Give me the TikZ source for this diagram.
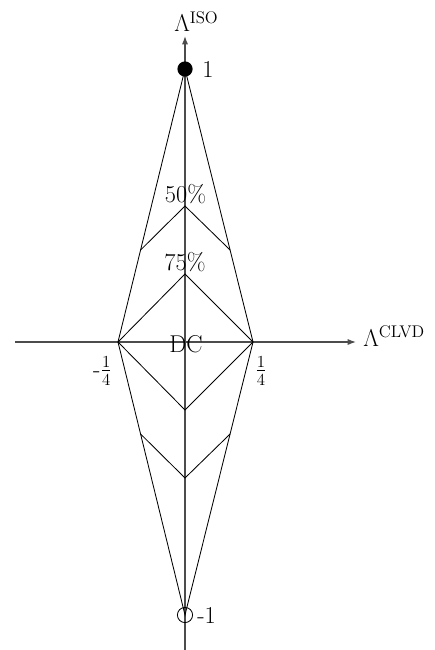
\documentclass[tikz,border=0pt]{standalone}
\usepackage{amsmath, amssymb}
\usepackage{tikz}
\usetikzlibrary{arrows.meta, positioning, calc}

\begin{document}
\begin{tikzpicture}[
    x=0.025cm, y=-0.025cm,
    >={Latex[length=6pt, width=4.4pt]},
    axis/.style={->, line width=0.8pt, black!70},
    edge/.style={line width=0.6pt, black},
    lbl/.style={font=\LARGE, inner sep=0pt},
]
    \useasboundingbox (0,0) rectangle (434,650);

    % axes
    \coordinate (xstart) at (15,342);
    \coordinate (xend) at (356,342);
    \coordinate (ystart) at (185,650);
    \coordinate (yend) at (185,36);
    \draw[axis] (xstart) -- (xend);
    \draw[axis] (ystart) -- (yend);

    % corners of the lune
    \coordinate (iso) at (185,69);
    \coordinate (niso) at (185,615);
    \coordinate (lclvd) at (118,342);
    \coordinate (rclvd) at (253,342);
    \coordinate (top50) at (185,206);
    \coordinate (top75) at (185,274);
    \coordinate (bot75) at (185,410);
    \coordinate (bot50) at (185,478);
    \coordinate (ul50) at ($(iso)!0.663!(lclvd)$);
    \coordinate (ur50) at ($(iso)!0.663!(rclvd)$);
    \coordinate (ll50) at ($(lclvd)!0.337!(niso)$);
    \coordinate (lr50) at ($(rclvd)!0.337!(niso)$);

    \draw[edge] (iso) -- (lclvd) -- (niso) -- (rclvd) -- cycle;
    \draw[edge] (ul50) -- (top50) -- (ur50);
    \draw[edge] (ll50) -- (bot50) -- (lr50);
    \draw[edge] (lclvd) -- (top75) -- (rclvd);
    \draw[edge] (lclvd) -- (bot75) -- (rclvd);

    \fill (iso) circle (0.19cm);
    \draw[line width=0.6pt] (niso) circle (0.19cm);

    % labels
    \node[lbl, anchor=base west] (isolbl) at (174,32) {$\Lambda^{\mathrm{ISO}}$};
    \node[lbl, anchor=base west] (clvdlbl) at (363,346) {$\Lambda^{\mathrm{CLVD}}$};
    \node[lbl, anchor=base west] (onelbl) at (202,77) {1};
    \node[lbl, anchor=base west] (monelbl) at (197,623) {-1};
    \node[lbl, anchor=base] (pct50) at (185.5,202) {50\%};
    \node[lbl, anchor=base] (pct75) at (185,270) {75\%};
    \node[lbl, anchor=base] (dclbl) at (186,352) {DC};
    \node[lbl] (lqtr) at (102.5,371) {-$\frac{1}{4}$};
    \node[lbl] (rqtr) at (261,371) {$\frac{1}{4}$};
\end{tikzpicture}
\end{document}
